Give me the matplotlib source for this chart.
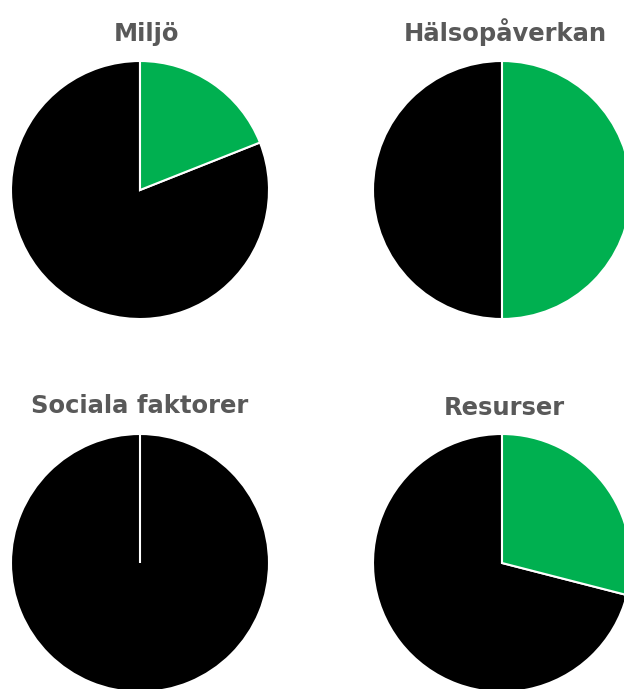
import matplotlib

matplotlib.use("Agg")
import matplotlib.pyplot as plt

# share of green (positive) vs black for each area, in percent
titles = ["Miljö", "Hälsopåverkan", "Sociala faktorer", "Resurser"]
green_share = [19, 50, 0, 29]
black_share = [81, 50, 100, 71]

GREEN = "#00B050"
BLACK = "#000000"
TITLE_GRAY = "#595959"

W, H = 624, 689
fig = plt.figure(figsize=(W / 100, H / 100), dpi=100)

# pie centres in pixels (from top-left), radius in pixels
centres = [(140, 190), (502, 190), (140, 563), (502, 563)]
# title centre x and baseline y, pixels
title_pos = [(146, 41), (505, 41), (140, 413), (504, 415)]
R = 129

for i, name in enumerate(titles):
    cx, cy = centres[i]
    ax = fig.add_axes([(cx - R) / W, (H - cy - R) / H, 2 * R / W, 2 * R / H])
    wedges, _ = ax.pie(
        [green_share[i], black_share[i]],
        colors=[GREEN, BLACK],
        startangle=90,
        counterclock=False,
        wedgeprops=dict(edgecolor="white", linewidth=1.5),
    )
    # keep the green (or zero-width) wedge edge visible above the black one
    wedges[0].set_zorder(3)
    ax.set_xlim(-1, 1)
    ax.set_ylim(-1, 1)
    ax.set_aspect("equal")
    ax.axis("off")

    tx, ty = title_pos[i]
    fig.text(tx / W, 1 - ty / H, name, ha="center", va="baseline",
             fontsize=17.5, fontweight="bold", color=TITLE_GRAY,
             family="DejaVu Sans")

fig.savefig("out.png", dpi=100)
